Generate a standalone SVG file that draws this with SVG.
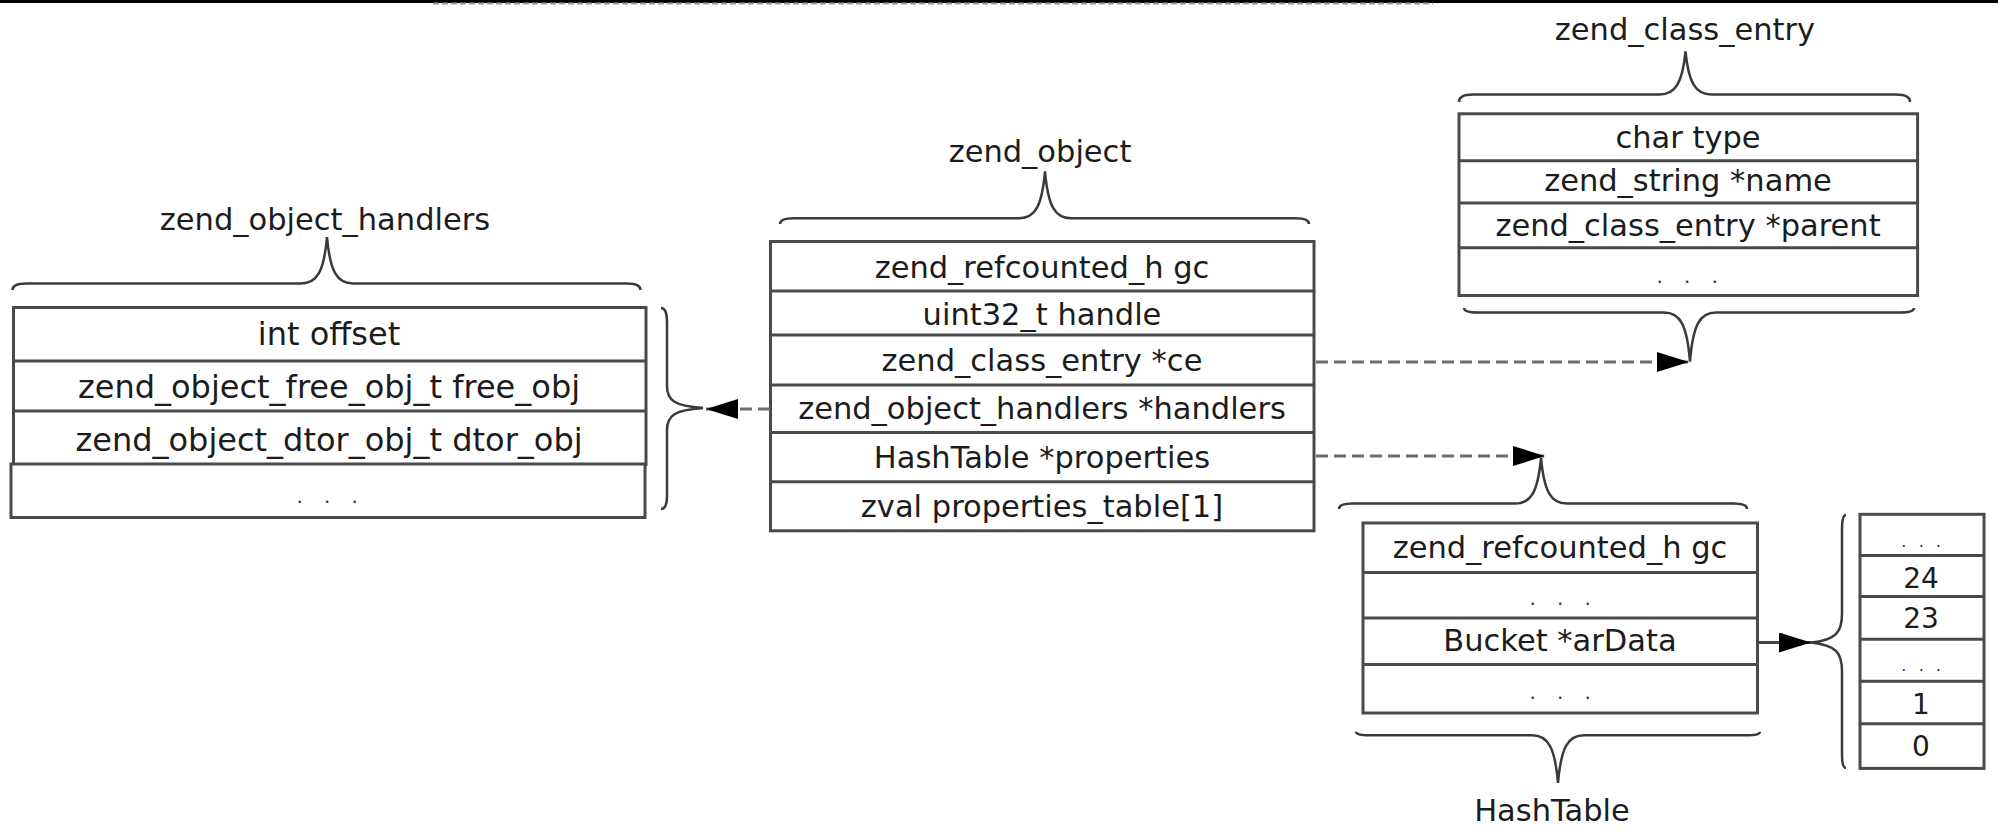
<svg xmlns="http://www.w3.org/2000/svg" width="1998" height="838" viewBox="0 0 1998 838">
<style>
text{font-family:"DejaVu Sans","Liberation Sans",sans-serif;fill:#1c1c1c;text-anchor:middle}
.t{font-size:30.5px}
.r{font-size:30.5px}
.rl{font-size:32px}
.d{font-size:20px;letter-spacing:7.4px;fill:#333}
.ds{font-size:16px;letter-spacing:3.6px;fill:#333}
.n{font-size:28px}
.box{fill:#fff;stroke:#4a4a4a;stroke-width:3}
.sep{stroke:#4a4a4a;stroke-width:3}
.brace{fill:none;stroke:#3a3a3a;stroke-width:2.5}
.dash{fill:none;stroke:#6d6d6d;stroke-width:3;stroke-dasharray:12 6}
.solid{fill:none;stroke:#444;stroke-width:3}
</style>
<defs>
<marker id="ah" markerUnits="userSpaceOnUse" markerWidth="32" markerHeight="20" refX="32" refY="10" orient="auto">
<path d="M0,0 L32,10 L0,20 Z" fill="#000"/>
</marker>
</defs>
<rect width="1998" height="838" fill="#fff"/>
<line x1="0" y1="1.5" x2="1998" y2="1.5" stroke="#000" stroke-width="3"/>
<line x1="433" y1="3.5" x2="1433" y2="3.5" stroke="#999" stroke-width="2" stroke-dasharray="6 3"/>

<g id="zend_object_handlers">
<text class="t" x="325" y="229.5">zend_object_handlers</text>
<path class="brace" d="M 12.5,290 Q 12.5,283.5 26.5,283.5 L 301,283.5 C 317,283.5 324,271.5 327,237 C 330,271.5 337,283.5 353,283.5 L 626.5,283.5 Q 640.5,283.5 640.5,290"/>
<rect class="box" x="13.5" y="307.5" width="632.5" height="157"/>
<rect class="box" x="11" y="464" width="634" height="53.5"/>
<line class="sep" x1="13.5" y1="361" x2="646" y2="361"/>
<line class="sep" x1="13.5" y1="411" x2="646" y2="411"/>
<text class="rl" x="329" y="345">int offset</text>
<text class="rl" x="329" y="398">zend_object_free_obj_t free_obj</text>
<text class="rl" x="329" y="451">zend_object_dtor_obj_t dtor_obj</text>
<text class="d" x="331" y="503">. . .</text>
<path class="brace" d="M 661,308 Q 667,308 667,322 L 667,386 C 667,400 674,406 703,408 C 674,410 667,416 667,430 L 667,496 Q 667,509 661,509"/>
</g>

<g id="zend_object">
<text class="t" x="1040" y="161.6">zend_object</text>
<path class="brace" d="M 780,224 Q 780,218.3 794,218.3 L 1019,218.3 C 1035,218.3 1042,206.3 1045,171.4 C 1048,206.3 1055,218.3 1071,218.3 L 1295,218.3 Q 1309,218.3 1309,224"/>
<rect class="box" x="770.5" y="241.5" width="543.5" height="289.3"/>
<line class="sep" x1="770.5" y1="291" x2="1314" y2="291"/>
<line class="sep" x1="770.5" y1="335" x2="1314" y2="335"/>
<line class="sep" x1="770.5" y1="385" x2="1314" y2="385"/>
<line class="sep" x1="770.5" y1="432.6" x2="1314" y2="432.6"/>
<line class="sep" x1="770.5" y1="481.7" x2="1314" y2="481.7"/>
<text class="r" x="1042" y="277.7">zend_refcounted_h gc</text>
<text class="r" x="1042" y="325.4">uint32_t handle</text>
<text class="r" x="1042" y="371.4">zend_class_entry *ce</text>
<text class="r" x="1042" y="419">zend_object_handlers *handlers</text>
<text class="r" x="1042" y="468">HashTable *properties</text>
<text class="r" x="1042" y="517">zval properties_table[1]</text>
</g>

<g id="zend_class_entry">
<text class="t" x="1685" y="40">zend_class_entry</text>
<path class="brace" d="M 1459,102 Q 1459,94.6 1473,94.6 L 1659.5,94.6 C 1675.5,94.6 1682.5,82.6 1685.5,51.3 C 1688.5,82.6 1695.5,94.6 1711.5,94.6 L 1896,94.6 Q 1910,94.6 1910,102"/>
<rect class="box" x="1459" y="113.8" width="458.6" height="181.7"/>
<line class="sep" x1="1459" y1="160.7" x2="1917.6" y2="160.7"/>
<line class="sep" x1="1459" y1="203" x2="1917.6" y2="203"/>
<line class="sep" x1="1459" y1="247.8" x2="1917.6" y2="247.8"/>
<text class="r" x="1688" y="148">char type</text>
<text class="r" x="1688" y="191">zend_string *name</text>
<text class="r" x="1688" y="235.7">zend_class_entry *parent</text>
<text class="d" x="1691" y="283">. . .</text>
<path class="brace" d="M 1464,308 Q 1464,312.5 1478,312.5 L 1664,312.5 C 1680,312.5 1687,324.5 1690,361.6 C 1693,324.5 1700,312.5 1716,312.5 L 1900,312.5 Q 1914,312.5 1914,308"/>
</g>

<g id="HashTable">
<path class="brace" d="M 1339,509 Q 1339,503.6 1353,503.6 L 1515,503.6 C 1531,503.6 1538,491.6 1541,457.6 C 1544,491.6 1551,503.6 1567,503.6 L 1733,503.6 Q 1747,503.6 1747,509"/>
<rect class="box" x="1363" y="523" width="394.5" height="190"/>
<line class="sep" x1="1363" y1="572.5" x2="1757.5" y2="572.5"/>
<line class="sep" x1="1363" y1="618" x2="1757.5" y2="618"/>
<line class="sep" x1="1363" y1="664.5" x2="1757.5" y2="664.5"/>
<text class="r" x="1560" y="557.6">zend_refcounted_h gc</text>
<text class="d" x="1564" y="605">. . .</text>
<text class="r" x="1560" y="651.4">Bucket *arData</text>
<text class="d" x="1564" y="699">. . .</text>
<path class="brace" d="M 1356,731.7 Q 1356,735.3 1370,735.3 L 1532,735.3 C 1548,735.3 1555,747.3 1558,783 C 1561,747.3 1568,735.3 1584,735.3 L 1746,735.3 Q 1760,735.3 1760,731.7"/>
<text class="t" x="1552" y="821">HashTable</text>
</g>

<g id="arData">
<path class="brace" d="M 1846,515 Q 1842,515 1842,529 L 1842,614 C 1842,632 1836,640 1811,642.5 C 1836,645 1842,653 1842,671 L 1842,755 Q 1842,768 1846,768"/>
<rect class="box" x="1860" y="514.3" width="124" height="254.1"/>
<line class="sep" x1="1860" y1="555.4" x2="1984" y2="555.4"/>
<line class="sep" x1="1860" y1="596.5" x2="1984" y2="596.5"/>
<line class="sep" x1="1860" y1="639.3" x2="1984" y2="639.3"/>
<line class="sep" x1="1860" y1="681.3" x2="1984" y2="681.3"/>
<line class="sep" x1="1860" y1="723.7" x2="1984" y2="723.7"/>
<text class="ds" x="1923" y="547">. . .</text>
<text class="n" x="1921" y="588">24</text>
<text class="n" x="1921" y="628">23</text>
<text class="ds" x="1923" y="670.5">. . .</text>
<text class="n" x="1921" y="714">1</text>
<text class="n" x="1921" y="756">0</text>
</g>

<g id="connectors">
<line class="dash" x1="770" y1="409" x2="706" y2="409" marker-end="url(#ah)"/>
<line class="dash" x1="1316" y1="362" x2="1689" y2="362" marker-end="url(#ah)"/>
<line class="dash" x1="1316" y1="456" x2="1545" y2="456" marker-end="url(#ah)"/>
<line class="solid" x1="1758" y1="642.5" x2="1811" y2="642.5" marker-end="url(#ah)"/>
</g>
</svg>
